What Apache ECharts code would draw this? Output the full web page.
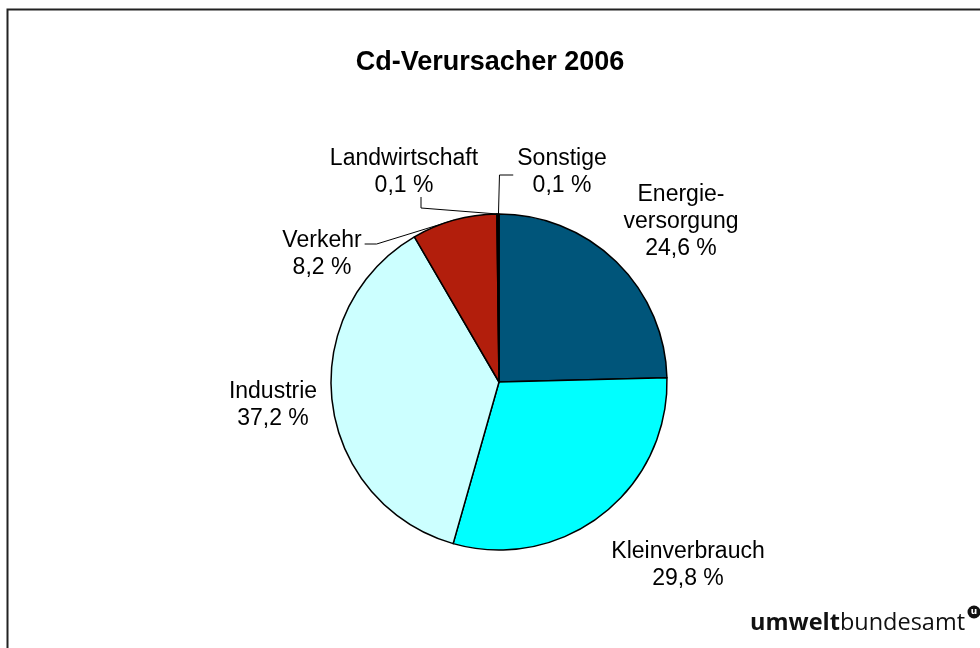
<!DOCTYPE html>
<html>
<head>
<meta charset="utf-8">
<title>Cd-Verursacher 2006</title>
<script src="https://cdn.jsdelivr.net/npm/echarts@6/dist/echarts.min.js"></script>
<style>
	html, body { margin: 0; padding: 0; background: #fff; }
	#chart { width: 980px; height: 648px; }
</style>
</head>
<body>
<div id="chart"></div>
<script>
	// Anteile in Prozent, im Uhrzeigersinn ab 12 Uhr
	var categories = ['Energie-\nversorgung', 'Kleinverbrauch', 'Industrie', 'Verkehr', 'Landwirtschaft', 'Sonstige'];
	var shares = [24.6, 29.8, 37.2, 8.2, 0.1, 0.1];

	var colors = ['#00557a', '#00ffff', '#ccffff', '#b21e0c', '#ffffff', '#33cccc'];
	// Lage der Beschriftungen (Mitte des Textblocks)
	var labelPos = [[681, 222], [688, 565], [273, 405], [322, 254], [404, 172], [562, 172]];
	var withLine = [false, false, false, true, true, true];

	var chart = echarts.init(document.getElementById('chart'));

	var seriesData = [];
	categories.forEach(function(name, i) {
		seriesData.push({
			name: name,
			value: shares[i],
			itemStyle: { color: colors[i] },
			labelLine: { show: withLine[i] }
		});
	});

	// Führungslinie: vom Kreisrand (von ECharts berechnet) zum Text
	function leaderLine(i, p0, pos, r) {
		var left = pos[0] - r.width / 2, right = pos[0] + r.width / 2;
		var bottom = pos[1] + r.height / 2;
		if (i == 3) {
			return [p0, [right + 15, pos[1] - 10], [right + 3, pos[1] - 10]];
		} else if (i == 4) {
			return [p0, [pos[0] + 17, bottom + 9], [pos[0] + 17, bottom - 2]];
		} else if (i == 5) {
			return [p0, [p0[0] + 1, pos[1] + 3], [left - 4, pos[1] + 3]];
		}
		return null;
	}

	var option = {
		animation: false,
		title: {
			text: 'Cd-Verursacher 2006',
			left: 485,
			top: 44,
			textAlign: 'center',
			textStyle: {
				fontFamily: 'Liberation Sans, Arial, sans-serif',
				fontSize: 27,
				fontWeight: 'bold',
				color: '#000'
			}
		},
		graphic: [
			{
				type: 'rect',
				shape: { x: 7.5, y: 9.5, width: 1100, height: 800 },
				style: { fill: 'none', stroke: '#222', lineWidth: 2 },
				silent: true
			},
			{
				type: 'text',
				left: 750,
				top: 611,
				style: {
					text: '{b|umwelt}{n|bundesamt}',
					rich: {
						b: { fontFamily: 'Open Sans, DejaVu Sans, sans-serif', fontSize: 23.5, fontWeight: 'bold', fill: '#111' },
						n: { fontFamily: 'Open Sans, DejaVu Sans, sans-serif', fontSize: 23.5, fill: '#111' }
					}
				}
			},
			{
				type: 'circle',
				shape: { cx: 974, cy: 612, r: 6.5 },
				style: { fill: '#111' }
			},
			{
				type: 'text',
				x: 974,
				y: 612,
				style: {
					text: 'u',
					align: 'center',
					verticalAlign: 'middle',
					fontFamily: 'DejaVu Sans, sans-serif',
					fontSize: 9,
					fontWeight: 'bold',
					fill: '#fff'
				}
			}
		],
		series: [{
			type: 'pie',
			center: [499, 382],
			radius: 168,
			startAngle: 90,
			clockwise: true,
			avoidLabelOverlap: false,
			minAngle: 0,
			itemStyle: {
				borderColor: '#000',
				borderWidth: 1.5
			},
			emphasis: { disabled: true },
			label: {
				show: true,
				position: 'outside',
				formatter: function(p) {
					return p.name + '\n' + String(p.value.toFixed(1)).replace('.', ',') + ' %';
				},
				fontFamily: 'Liberation Sans, Arial, sans-serif',
				fontSize: 23,
				lineHeight: 27,
				color: '#000',
				align: 'center'
			},
			labelLine: {
				length: 10,
				length2: 10,
				lineStyle: { color: '#000', width: 1 }
			},
			labelLayout: function(params) {
				var i = params.dataIndex;
				var pos = labelPos[i];
				var res = {
					x: pos[0],
					y: pos[1],
					align: 'center',
					verticalAlign: 'middle'
				};
				if (withLine[i] && params.labelLinePoints) {
					res.labelLinePoints = leaderLine(i, params.labelLinePoints[0], pos, params.labelRect);
				}
				return res;
			},
			data: seriesData
		}]
	};

	chart.setOption(option);
</script>
</body>
</html>
